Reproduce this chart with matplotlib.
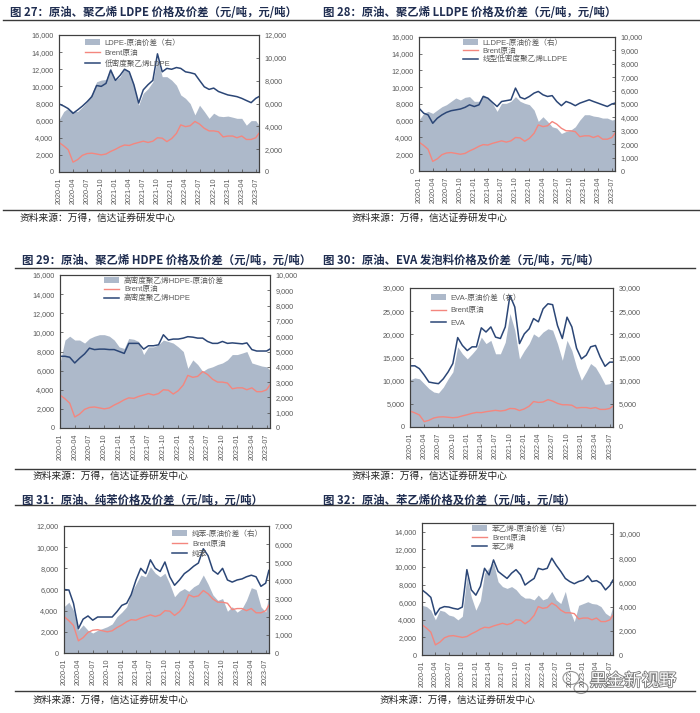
import numpy as np
import pandas as pd
import matplotlib
matplotlib.use('Agg')
import matplotlib.pyplot as plt
from matplotlib.lines import Line2D
from matplotlib.patches import Patch, Ellipse
from matplotlib.ticker import FuncFormatter
import matplotlib.patheffects as pe

plt.rcParams['font.family'] = ['Liberation Sans', 'Noto Sans CJK SC', 'DejaVu Sans']

# monthly samples, 2020-01 .. 2023-07 plus last day
dates = list(pd.date_range('2020-01-01', '2023-07-01', freq='MS')) + [pd.Timestamp('2023-07-21')]
xticks = pd.date_range('2020-01-01', '2023-07-01', freq='3MS')

brent = [3450, 3050, 2600, 1150, 1450, 1950, 2150, 2200, 2100, 2000, 2100, 2400,
         2650, 2950, 3150, 3100, 3300, 3450, 3600, 3450, 3600, 4000, 3950, 3550,
         3900, 4500, 5500, 5300, 5400, 5900, 5600, 5100, 4800, 4800, 4700, 4100,
         4200, 4200, 4000, 4200, 3800, 3800, 4000, 4500]

ldpe = [7950, 7700, 7400, 6850, 7250, 7700, 8200, 8800, 10100, 10000, 10350, 11900,
        10700, 11300, 12000, 11700, 10200, 8050, 9600, 10200, 10700, 13800, 11700, 12100,
        12000, 12200, 12100, 11700, 11600, 11450, 10700, 9950, 9650, 9800, 9400, 9200,
        9000, 8900, 8800, 8600, 8350, 8100, 8600, 8800]
ldpe_spread = [4550, 5300, 5600, 5300, 5300, 5700, 6150, 6900, 7900, 8050, 8100, 9100,
               8050, 8350, 9100, 8800, 7600, 5850, 6900, 7300, 7900, 9950, 8350, 8350,
               8050, 7600, 6750, 6450, 6000, 5000, 5850, 5300, 4700, 5150, 4900, 4850,
               4900, 4800, 4700, 4700, 4100, 4500, 4500, 4100]

lldpe = [7500, 6900, 6700, 5700, 6300, 6700, 7000, 7200, 7300, 7400, 7600, 7900,
         7700, 7900, 8900, 8700, 8200, 7700, 8300, 8400, 8500, 9900, 8800, 8600,
         8900, 9300, 9500, 9100, 8900, 9000, 8300, 7800, 8300, 8100, 7800, 8100,
         8300, 8500, 8300, 8100, 7900, 7700, 8000, 8100]
lldpe_spread = [3800, 4300, 4450, 4300, 4550, 4800, 4950, 5200, 5450, 5300, 5500, 5550,
                5200, 5200, 5700, 5450, 5050, 4450, 5050, 5050, 5200, 5550, 5200, 5050,
                4950, 4550, 3700, 4050, 3700, 3300, 3200, 2800, 2950, 3050, 3300, 3800,
                4200, 4200, 4100, 4050, 3950, 3950, 3800, 3850]

hdpe = [7500, 7500, 7400, 6800, 7300, 7750, 8350, 8200, 8250, 8250, 8200, 8200,
        8000, 7800, 8850, 8850, 8850, 8250, 8600, 8600, 8700, 9750, 9200, 9300,
        9300, 9400, 9550, 9500, 9400, 9400, 9050, 8850, 8850, 9050, 8850, 8900,
        8850, 8800, 8900, 8200, 8050, 8050, 8050, 8250]
hdpe_spread = [4250, 5750, 6000, 5750, 5750, 5550, 5850, 6000, 6100, 6100, 6000, 5750,
               5300, 5200, 5850, 5800, 5650, 4800, 5300, 5300, 5450, 5750, 5650, 5550,
               5300, 5000, 3900, 4450, 4150, 3700, 3900, 4000, 4150, 4250, 4450, 4800,
               4800, 4900, 5000, 4250, 4150, 4050, 4000, 3800]

eva = [13200, 13200, 12600, 11200, 9700, 9500, 9350, 10400, 11900, 13700, 19300, 17600,
       16500, 17300, 17300, 21400, 20500, 21600, 19400, 19100, 21600, 28400, 25900, 18000,
       20100, 21200, 23400, 22700, 25500, 26600, 26400, 21900, 19100, 23700, 21600, 17000,
       14700, 15500, 17300, 17600, 15100, 13100, 14000, 14000]
eva_spread = [10200, 10600, 10400, 9350, 8300, 7550, 7350, 8600, 10400, 11900, 17300, 15800,
              14700, 15800, 16900, 19400, 18000, 18700, 15800, 15800, 18300, 24500, 20900, 14700,
              16500, 18000, 20100, 19400, 20500, 21200, 20900, 18000, 14400, 18700, 16500, 12900,
              10100, 11900, 13700, 12900, 11200, 9200, 9350, 10100]

benzene = [6000, 5950, 4700, 2300, 3200, 3500, 3100, 3400, 3400, 3400, 3400, 3900,
           4500, 4700, 5500, 6900, 8000, 7500, 8800, 8000, 7700, 8600, 7200, 6400,
           6900, 7500, 7800, 8200, 8500, 9850, 9200, 7800, 7450, 8000, 6900, 6700,
           6900, 7000, 7200, 7350, 7200, 6300, 6600, 7800]
benzene_spread = [2550, 2800, 2350, 1250, 1550, 1250, 1100, 1250, 1350, 1450, 1600, 2000,
                  2250, 2550, 3300, 3800, 4300, 4200, 4750, 4400, 4200, 4400, 3800, 3100,
                  3400, 3550, 3400, 3650, 3800, 4300, 3800, 3200, 2900, 3000, 2300, 2550,
                  2250, 2450, 2900, 3600, 3500, 2550, 2250, 3200]

styrene = [7400, 7000, 6550, 4550, 5300, 5500, 5450, 5300, 5200, 5450, 9700, 7400,
           6800, 7800, 9850, 9100, 10800, 9500, 9100, 8700, 9300, 9700, 9100, 7950,
           8350, 8700, 9850, 9700, 9850, 11000, 10200, 9500, 8700, 8350, 8100, 8350,
           8500, 9000, 8350, 8450, 8150, 7400, 7900, 8500]
styrene_spread = [4100, 4000, 3700, 2900, 3700, 3600, 3300, 3200, 2900, 3200, 6500, 4800,
                  3700, 4500, 6750, 7200, 7600, 6050, 5650, 5500, 5650, 5400, 4950, 4700,
                  4700, 4550, 4950, 4550, 4700, 5250, 4550, 4250, 5250, 3700, 2750, 4100,
                  4250, 4400, 4250, 4200, 4000, 3450, 3200, 4000]

AREA = '#adb9ca'
NAVY = '#2b4676'
RED = '#f4867e'
GREY = '#595959'
TITLE = '#1f2d50'
W, H = 700, 713

fig = plt.figure(figsize=(7, 7.13), dpi=100)


def rect(x0, y0, x1, y1):
    return [x0 / W, 1 - y1 / H, (x1 - x0) / W, (y1 - y0) / H]


def panel(box, spread, product, labels, lim_l, top_l, step_l, lim_r, top_r, step_r, leg_x, leg_y, leg_sp):
    ax = fig.add_axes(rect(*box))
    ax2 = ax.twinx()
    ax2.fill_between(dates, spread, 0, color=AREA, lw=0)
    ax.plot(dates, brent, color=RED, lw=1.0)
    ax.plot(dates, product, color=NAVY, lw=1.1)
    ax.set_zorder(ax2.get_zorder() + 1)
    ax.patch.set_visible(False)

    ax.set_xlim(pd.Timestamp('2020-01-01'), pd.Timestamp('2023-07-22'))
    ax.set_xticks(xticks)
    ax.set_xticklabels([d.strftime('%Y-%m') for d in xticks], rotation=90)
    ax.set_ylim(0, lim_l)
    ax.set_yticks(np.arange(0, top_l + 1, step_l))
    ax2.set_ylim(0, lim_r)
    ax2.set_yticks(np.arange(0, top_r + 1, step_r))
    fmt = FuncFormatter(lambda v, p: '{:,.0f}'.format(v))
    ax.yaxis.set_major_formatter(fmt)
    ax2.yaxis.set_major_formatter(fmt)

    for a in (ax, ax2):
        a.tick_params(direction='in', length=2.5, width=0.6, color=GREY,
                      labelcolor=GREY, labelsize=5.2, pad=4)
        for s in a.spines.values():
            s.set_color('#404040')
            s.set_linewidth(0.8)

    handles = [Patch(facecolor=AREA, edgecolor='none'),
               Line2D([], [], color=RED, lw=1.0),
               Line2D([], [], color=NAVY, lw=1.1)]
    ax.legend(handles, labels, loc='upper left', bbox_to_anchor=(leg_x, leg_y),
              frameon=False, fontsize=5.5, labelcolor=GREY, handlelength=2.0,
              handleheight=0.8, handletextpad=0.6, labelspacing=leg_sp,
              borderpad=0, borderaxespad=0)
    return ax


panel((59, 35, 259, 172), ldpe_spread, ldpe,
      ['LDPE-原油价差（右）', 'Brent原油', '低密度聚乙烯LDPE'],
      16000, 16000, 2000, 12000, 12000, 2000, 0.13, 0.97, 0.38)
panel((419, 37, 615, 171), lldpe_spread, lldpe,
      ['LLDPE-原油价差（右）', 'Brent原油', '线型低密度聚乙烯LLDPE'],
      16000, 16000, 2000, 10000, 10000, 1000, 0.224, 0.985, 0.1)
panel((60, 275, 270, 428), hdpe_spread, hdpe,
      ['高密度聚乙烯HDPE-原油价差', 'Brent原油', '高密度聚乙烯HDPE'],
      16000, 16000, 2000, 10000, 10000, 1000, 0.21, 0.987, 0.16)
panel((410, 288, 613, 427), eva_spread, eva,
      ['EVA-原油价差（右）', 'Brent原油', 'EVA'],
      30000, 30000, 5000, 30000, 30000, 5000, 0.103, 0.957, 0.68)
panel((64, 526, 269, 653), benzene_spread, benzene,
      ['纯苯-原油价差（右）', 'Brent原油', '纯苯'],
      12000, 12000, 2000, 7000, 7000, 1000, 0.527, 0.97, 0.36)
panel((422, 523, 613, 655), styrene_spread, styrene,
      ['苯乙烯-原油价差（右）', 'Brent原油', '苯乙烯'],
      15000, 14000, 2000, 10900, 10000, 2000, 0.262, 0.985, 0.23)

titles = [(10, 12, '图 27：原油、聚乙烯 LDPE 价格及价差（元/吨，元/吨）'),
          (323, 12, '图 28：原油、聚乙烯 LLDPE 价格及价差（元/吨，元/吨）'),
          (22, 261, '图 29：原油、聚乙烯 HDPE 价格及价差（元/吨，元/吨）'),
          (323, 261, '图 30：原油、EVA 发泡料价格及价差（元/吨，元/吨）'),
          (22, 501, '图 31：原油、纯苯价格及价差（元/吨，元/吨）'),
          (323, 501, '图 32：原油、苯乙烯价格及价差（元/吨，元/吨）')]
for x, y, t in titles:
    fig.text(x / W, 1 - y / H, t, fontsize=8.2, fontweight='bold', color=TITLE,
             ha='left', va='center', family=['Noto Sans CJK SC', 'DejaVu Sans'])

rules = [(3, 700, 20), (3, 700, 210), (15, 695, 268), (15, 695, 469), (15, 695, 505), (15, 695, 691)]
for x0, x1, y in rules:
    fig.add_artist(Line2D([x0 / W, x1 / W], [1 - y / H, 1 - y / H], transform=fig.transFigure,
                          color='#3a3a3a', lw=1.0))

src = '资料来源：万得，信达证券研发中心'
for x, y in [(20, 218), (352, 218), (33, 476), (352, 476), (33, 700), (380, 700)]:
    fig.text(x / W, 1 - y / H, src, fontsize=7, color='#222222', ha='left', va='center',
             family=['Noto Sans CJK SC', 'DejaVu Sans'])

# watermark: chat-bubble icon and account name
for cx, cy, w, h in [(571, 678, 16, 13), (581, 688, 14, 11)]:
    fig.add_artist(Ellipse((cx / W, 1 - cy / H), w / W, h / H, transform=fig.transFigure,
                           facecolor='white', edgecolor='#8a8a8a', lw=0.8, alpha=0.9))
fig.text(633 / W, 1 - 681 / H, '黑金新视野', fontsize=12.5, color='white', ha='center', va='center',
         family=['Noto Sans CJK SC'],
         path_effects=[pe.withStroke(linewidth=1.2, foreground='#777777')])

fig.savefig('out.png', dpi=100)
